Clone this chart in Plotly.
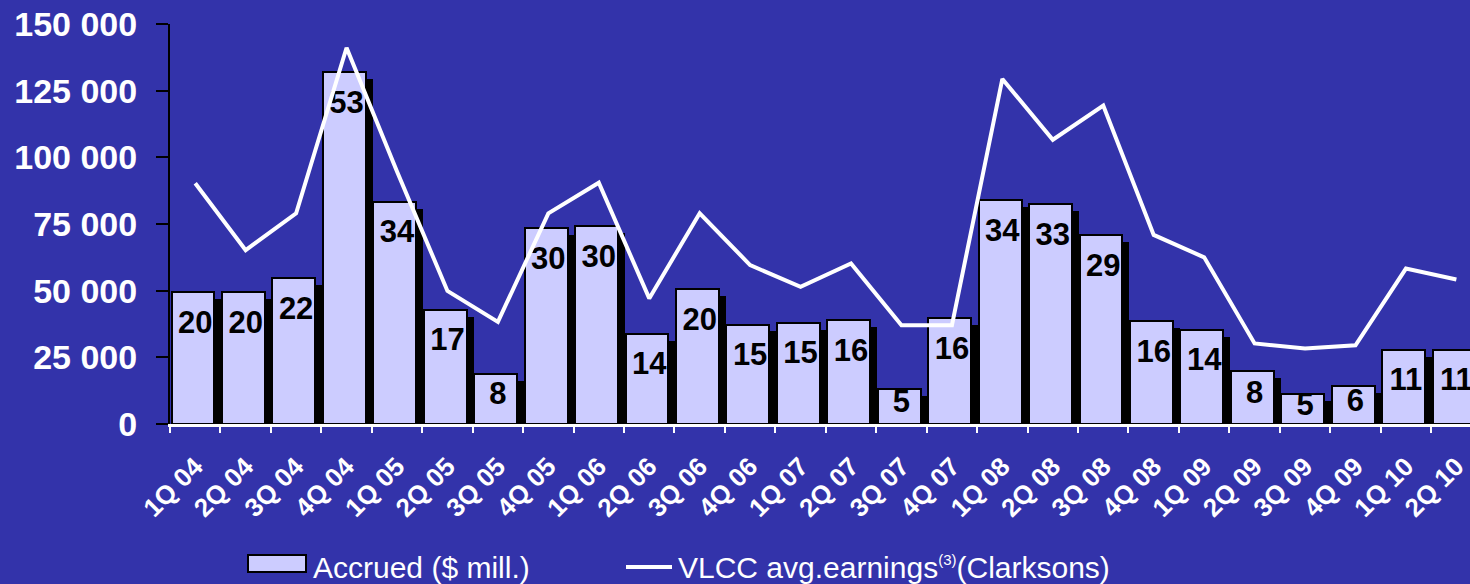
import plotly.graph_objects as go

quarters = ["1Q 04", "2Q 04", "3Q 04", "4Q 04", "1Q 05", "2Q 05", "3Q 05", "4Q 05",
            "1Q 06", "2Q 06", "3Q 06", "4Q 06", "1Q 07", "2Q 07", "3Q 07", "4Q 07",
            "1Q 08", "2Q 08", "3Q 08", "4Q 08", "1Q 09", "2Q 09", "3Q 09", "4Q 09",
            "1Q 10", "2Q 10"]

# Accrued bars, heights on the chart's value scale
accrued_height = [49500, 49500, 54600, 132000, 83400, 42900, 18900, 73400,
                  74200, 33900, 50500, 37300, 38000, 38900, 13200, 39800,
                  84000, 82500, 70900, 38500, 35400, 19800, 11400, 14100,
                  27900, 27900]

# Accrued ($ mill.) labels
accrued_labels = ["20", "20", "22", "53", "34", "17", "8", "30",
                  "30", "14", "20", "15", "15", "16", "5", "16",
                  "34", "33", "29", "16", "14", "8", "5", "6",
                  "11", "11"]

# VLCC average earnings (Clarksons)
vlcc_earnings = [90300, 65200, 79000, 141100, 94700, 49900, 38300, 79000,
                 90500, 47100, 79000, 59600, 51400, 60200, 37000, 37000,
                 129400, 106600, 119400, 70900, 62500, 30200, 28300, 29500,
                 58300, 54200]

y_ticks = [0, 25000, 50000, 75000, 100000, 125000, 150000]

BG = "#3333AA"
BAR = "#CCCCFF"
FONT = "Liberation Sans, Arial, sans-serif"

shadow_dy = 2600
shadow_heights = [v - shadow_dy for v in accrued_height]
label_y = [v - min(12400, 0.45 * v) for v in accrued_height]

fig = go.Figure()

# shadow behind bars
fig.add_trace(go.Bar(
    x=quarters, y=shadow_heights, width=0.85, offset=-0.33,
    marker=dict(color="black", line=dict(width=0)),
    showlegend=False, hoverinfo="skip",
))
# main bars
fig.add_trace(go.Bar(
    x=quarters, y=accrued_height, width=0.85, offset=-0.47,
    marker=dict(color=BAR, line=dict(color="black", width=2)),
    name="Accrued ($ mill.)", showlegend=False,
))
# labels inside bars
fig.add_trace(go.Scatter(
    x=quarters, y=label_y, mode="text", text=accrued_labels,
    textposition="middle center",
    textfont=dict(family=FONT, size=31, color="black", weight="bold"),
    showlegend=False, hoverinfo="skip", cliponaxis=True,
))
# VLCC line
fig.add_trace(go.Scatter(
    x=quarters, y=vlcc_earnings, mode="lines",
    line=dict(color="white", width=4),
    name="VLCC avg.earnings (Clarksons)", showlegend=False,
))

fig.update_layout(
    width=1470, height=584,
    autosize=False,
    margin=dict(l=170, r=0, t=24, b=160, autoexpand=False),
    paper_bgcolor=BG, plot_bgcolor=BG,
    barmode="overlay",
    bargap=0,
    separators=", ",
    showlegend=False,
    font=dict(family=FONT, color="white"),
)

fig.update_xaxes(
    type="category",
    range=[-0.5, 25.27],
    automargin=False,
    showgrid=False, zeroline=False,
    showline=True, linecolor="white", linewidth=3,
    ticks="outside", tickson="boundaries", ticklen=6, tickwidth=2, tickcolor="white",
    tickangle=-45,
    tickfont=dict(family=FONT, size=26, color="white", weight="bold"),
    ticklabelstandoff=14,
)

fig.update_yaxes(
    range=[0, 150000],
    automargin=False,
    tickvals=y_ticks, tickformat=",d",
    showgrid=False, zeroline=False,
    showline=True, linecolor="black", linewidth=2,
    ticks="outside", ticklen=12, tickwidth=2, tickcolor="black",
    tickfont=dict(family=FONT, size=34, color="white", weight="bold"),
    ticklabelstandoff=12,
)

# custom legend
def px_x(px):
    return (px - 170) / 1300.0

def px_y(py):
    return (424 - py) / 400.0

fig.add_shape(type="rect", xref="paper", yref="paper",
              x0=px_x(248), x1=px_x(306), y0=px_y(572), y1=px_y(555),
              fillcolor=BAR, line=dict(color="black", width=2))
fig.add_annotation(xref="paper", yref="paper", x=px_x(311), y=px_y(567),
                   xanchor="left", yanchor="middle", showarrow=False,
                   text="Accrued ($ mill.)",
                   font=dict(family=FONT, size=30, color="white"))
fig.add_shape(type="line", xref="paper", yref="paper",
              x0=px_x(626), x1=px_x(672), y0=px_y(567), y1=px_y(567),
              line=dict(color="white", width=4))
fig.add_annotation(xref="paper", yref="paper", x=px_x(676), y=px_y(567),
                   xanchor="left", yanchor="middle", showarrow=False,
                   text="VLCC avg.earnings<sup><span style='font-size:15px'>(3)</span></sup>(Clarksons)",
                   font=dict(family=FONT, size=30, color="white"))

fig.write_html("out.html")
